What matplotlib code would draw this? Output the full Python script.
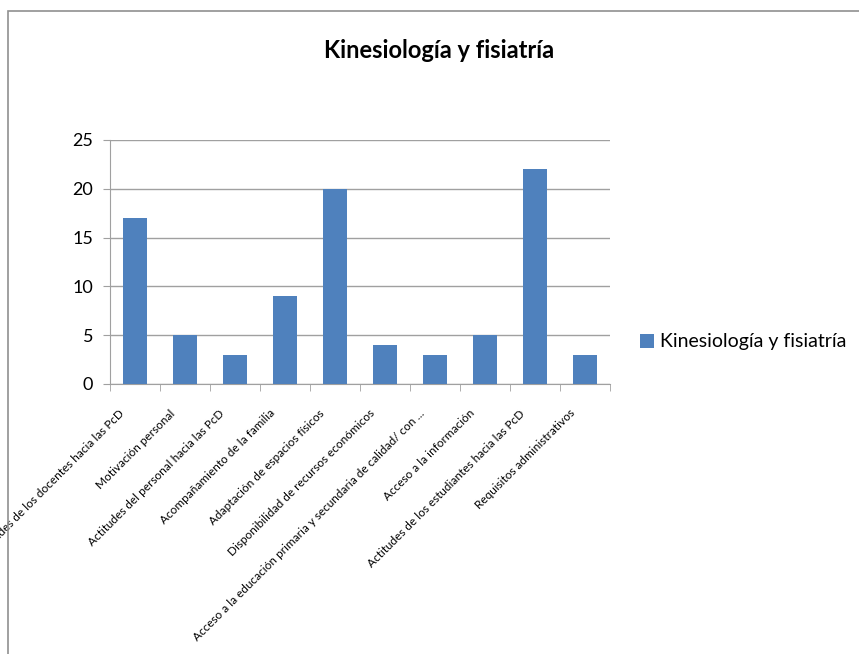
import matplotlib.pyplot as plt
from matplotlib.patches import Rectangle
from matplotlib.transforms import ScaledTranslation
import numpy as np

categories = [
    "Actitudes de los docentes hacia las PcD",
    "Motivación personal",
    "Actitudes del personal hacia las PcD",
    "Acompañamiento de la familia",
    "Adaptación de espacios físicos",
    "Disponibilidad de recursos económicos",
    "Acceso a la educación primaria y secundaria de calidad/ con ...",
    "Acceso a la información",
    "Actitudes de los estudiantes hacia las PcD",
    "Requisitos administrativos",
]
values = [17, 5, 3, 9, 20, 4, 3, 5, 22, 3]
series_name = "Kinesiología y fisiatría"

plt.rcParams['font.family'] = ['Lato', 'DejaVu Sans']

fig = plt.figure(figsize=(8.59, 6.54), dpi=100)
ax = fig.add_axes([110/859, 1-384/654, 500/859, 244/654])

x = np.arange(len(categories))
ax.bar(x, values, width=0.48, color='#4F81BD', label=series_name, zorder=3)

ax.set_xlim(-0.5, len(categories) - 0.5)
ax.set_ylim(0, 25)
ax.set_yticks([0, 5, 10, 15, 20, 25])
ax.yaxis.grid(True, color='#A0A0A0', linewidth=1, zorder=0)
ax.tick_params(axis='y', labelsize=13, length=5, color='#A0A0A0', pad=7)

ax.set_xticks(x)
ax.set_xticklabels(categories, rotation=45, ha='right', va='top',
                   rotation_mode='anchor', fontsize=8.5)
ax.tick_params(axis='x', length=0, pad=17)
shift = ScaledTranslation(-16/100, 0, fig.dpi_scale_trans)
for lab in ax.get_xticklabels():
    lab.set_transform(lab.get_transform() + shift)
ax.set_xticks(np.arange(-0.5, len(categories)), minor=True)
ax.tick_params(axis='x', which='minor', length=5, color='#A0A0A0')

for side in ['top', 'right']:
    ax.spines[side].set_visible(False)
for side in ['left', 'bottom']:
    ax.spines[side].set_color('#A0A0A0')

fig.text(439/859, 1-50/654, series_name, ha='center', va='center',
         fontsize=17, fontweight='bold')

ax.legend(loc='center left', bbox_to_anchor=(640/859, 1-342/654),
          bbox_transform=fig.transFigure, frameon=False, fontsize=14,
          handlelength=0.7, handleheight=0.7, handletextpad=0.35,
          borderpad=0, borderaxespad=0)

fig.patches.append(Rectangle((8/859, -0.1), 1.1, 1.1 - 11/654,
                             transform=fig.transFigure, fill=False,
                             edgecolor='#909090', linewidth=1.2))

fig.savefig("out.png", dpi=100)
